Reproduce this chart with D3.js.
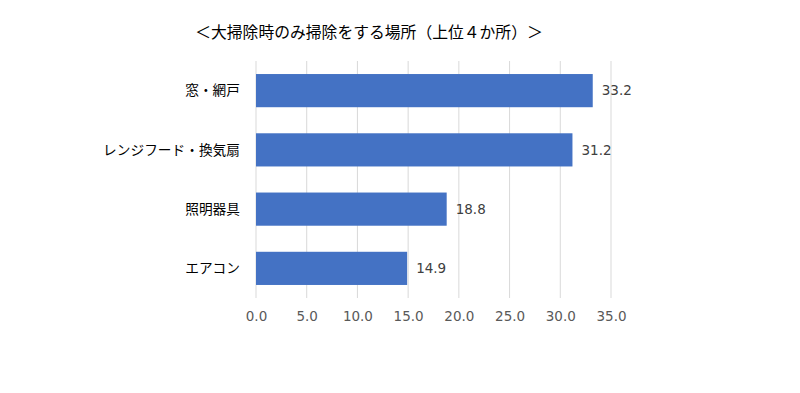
<!DOCTYPE html>
<html>
<head>
<meta charset="utf-8">
<script src="https://cdn.jsdelivr.net/npm/d3@7"></script>
<style>
    body { margin: 0; background: #fff; }
    svg { display: block; font-family: "Noto Sans CJK JP", "Noto Sans", sans-serif; }
</style>
</head>
<body>
<svg id="chart"></svg>
<script>
const categories = ['窓・網戸', 'レンジフード・換気扇', '照明器具', 'エアコン'];
const values = [33.2, 31.2, 18.8, 14.9];
const ticks = [0, 5, 10, 15, 20, 25, 30, 35];
const title = '＜大掃除時のみ掃除をする場所（上位４か所）＞';

const width = 800;
const height = 393;
const margin = { top: 61, right: 189, bottom: 95, left: 256 };
const numFont = '"DejaVu Sans", sans-serif';

const svg = d3.select('#chart')
    .attr('width', width)
    .attr('height', height);

const x = d3.scaleLinear()
    .domain([0, 35])
    .range([margin.left, width - margin.right]);

const y = d3.scaleBand()
    .domain(categories)
    .range([margin.top, height - margin.bottom])
    .paddingInner(0.44)
    .paddingOuter(0.22);

// title
svg.append('text')
    .attr('x', 369)
    .attr('y', 38)
    .attr('text-anchor', 'middle')
    .attr('font-size', 15.8)
    .attr('fill', '#000')
    .text(title);

// gridlines
svg.append('g')
    .selectAll('line')
    .data(ticks)
    .enter().append('line')
    .attr('x1', d => x(d))
    .attr('x2', d => x(d))
    .attr('y1', margin.top)
    .attr('y2', height - margin.bottom)
    .attr('stroke', '#d9d9d9')
    .attr('stroke-width', 1);

// x axis labels
const xAxis = d3.axisBottom(x)
    .tickValues(ticks)
    .tickFormat(d3.format('.1f'))
    .tickSize(0)
    .tickPadding(13);

svg.append('g')
    .attr('transform', `translate(0,${height - margin.bottom})`)
    .call(xAxis)
    .call(g => g.select('.domain').remove())
    .selectAll('text')
    .attr('font-size', 13.5)
    .attr('font-family', numFont)
    .attr('fill', '#595959');

// bars
svg.append('g')
    .selectAll('rect')
    .data(categories)
    .enter().append('rect')
    .attr('x', x(0))
    .attr('y', d => y(d))
    .attr('width', (d, i) => x(values[i]) - x(0))
    .attr('height', y.bandwidth())
    .attr('fill', '#4472c4');

// value labels
svg.append('g')
    .selectAll('text')
    .data(categories)
    .enter().append('text')
    .attr('x', (d, i) => x(values[i]) + 9)
    .attr('y', d => y(d) + y.bandwidth() / 2)
    .attr('dy', '0.36em')
    .attr('font-size', 13.5)
    .attr('font-family', numFont)
    .attr('fill', '#404040')
    .text((d, i) => values[i].toFixed(1));

// category labels
svg.append('g')
    .selectAll('text')
    .data(categories)
    .enter().append('text')
    .attr('x', margin.left - 16)
    .attr('y', d => y(d) + y.bandwidth() / 2)
    .attr('dy', '0.35em')
    .attr('text-anchor', 'end')
    .attr('font-size', 13.7)
    .attr('fill', '#000')
    .text(d => d);
</script>
</body>
</html>
